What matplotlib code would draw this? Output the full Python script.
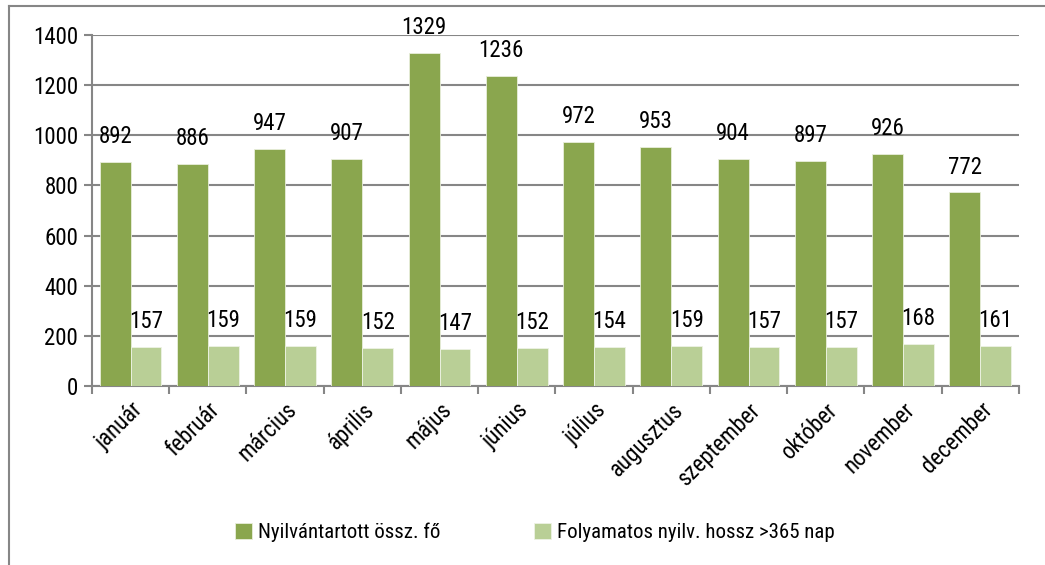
import matplotlib.pyplot as plt
import matplotlib.transforms as mtransforms
import numpy as np
from matplotlib.lines import Line2D

plt.rcParams['font.family'] = ['Roboto Condensed', 'Liberation Sans', 'DejaVu Sans']

months = ['január', 'február', 'március', 'április', 'május', 'június',
          'július', 'augusztus', 'szeptember', 'október', 'november', 'december']
osszes = [892, 886, 947, 907, 1329, 1236, 972, 953, 904, 897, 926, 772]
tartos = [157, 159, 159, 152, 147, 152, 154, 159, 157, 157, 168, 161]
series_names = ['Nyilvántartott össz. fő', 'Folyamatos nyilv. hossz >365 nap']

dark = '#8aa64e'
light = '#b9cf96'
gray = '#868686'
fs = 16.5

fig = plt.figure(figsize=(10.45, 5.65), dpi=100)
ax = fig.add_axes([0.088, 0.317, 0.887, 0.621])

x = np.arange(len(months))
w = 0.4
b1 = ax.bar(x - w/2, osszes, w, color=dark, edgecolor='#e8eedb', linewidth=0.6, label=series_names[0], zorder=3)
b2 = ax.bar(x + w/2, tartos, w, color=light, edgecolor='#eef3e5', linewidth=0.6, label=series_names[1], zorder=3)

for bars, vals in ((b1, osszes), (b2, tartos)):
    for r, v in zip(bars, vals):
        ax.annotate(str(v), (r.get_x() + r.get_width()/2, v), xytext=(0, 10),
                    textcoords='offset points', ha='center', va='bottom', fontsize=fs)

ax.set_xlim(-0.5, len(months) - 0.5)
ax.set_ylim(0, 1400)
ax.set_yticks(range(0, 1401, 200))
ax.yaxis.grid(True, color=gray, linewidth=1.5, zorder=0)
ax.set_axisbelow(True)

ax.set_xticks(np.arange(-0.5, len(months), 1))
ax.set_xticklabels([])
ax.set_xticks(x, minor=True)
ax.set_xticklabels(months, minor=True, rotation=45, ha='right', rotation_mode='anchor', fontsize=fs)
shift = mtransforms.ScaledTranslation(-5/100, 0, fig.dpi_scale_trans)
for lbl in ax.get_xticklabels(minor=True):
    lbl.set_transform(lbl.get_transform() + shift)
ax.tick_params(axis='x', which='minor', length=0, pad=9)
ax.tick_params(axis='x', which='major', length=6, color=gray, width=1.5, direction='out')
ax.tick_params(axis='y', length=6, color=gray, width=1.5, labelsize=fs, pad=4)

for s in ('top', 'right'):
    ax.spines[s].set_visible(False)
for s in ('left', 'bottom'):
    ax.spines[s].set_color(gray)
    ax.spines[s].set_linewidth(1.5)

fig.legend(handles=[b1, b2], loc='center', bbox_to_anchor=(0.512, 0.058), ncol=2,
           frameon=False, fontsize=15, handlelength=0.8, handleheight=0.8,
           handletextpad=0.3, columnspacing=4.5)

# outer chart border
fig.add_artist(Line2D([0.0086, 0.0086], [0, 0.989], color=gray, linewidth=1.5))
fig.add_artist(Line2D([0.0086, 1.0], [0.989, 0.989], color=gray, linewidth=1.5))

fig.savefig('out.png', dpi=100)
